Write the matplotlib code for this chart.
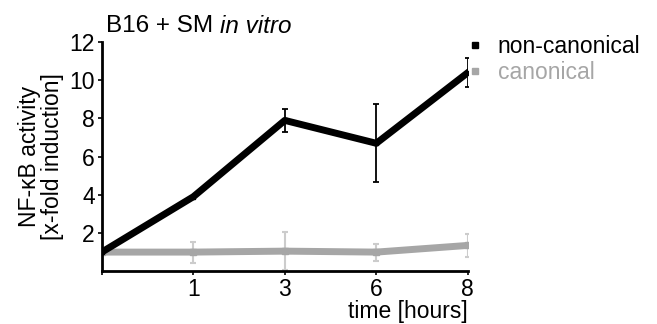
import numpy as np
import matplotlib.pyplot as plt
from matplotlib.lines import Line2D

plt.rcParams['font.family'] = ['Liberation Sans', 'DejaVu Sans']

# time points (hours), drawn at evenly spaced positions
time_labels = ['', '1', '3', '6', '8']
noncanonical = [1.0, 3.9, 7.9, 6.7, 10.4]
noncanonical_err = [0, 0, 0.6, 2.05, 0.75]
canonical = [1.0, 1.0, 1.05, 1.0, 1.35]
canonical_err = [0, 0.55, 1.0, 0.45, 0.6]

x = np.arange(len(time_labels))

fig = plt.figure(figsize=(6.57, 3.24), dpi=100)
ax = fig.add_axes([0.155, 0.163, 0.557, 0.707])

ax.errorbar(x, canonical, yerr=canonical_err, color='#a6a6a6', lw=5,
            ecolor='#cccccc', elinewidth=1.5, capsize=2.5, capthick=1.5,
            marker='s', ms=5, label='canonical', zorder=2)
ax.errorbar(x, noncanonical, yerr=noncanonical_err, color='black', lw=5,
            ecolor='black', elinewidth=1.3, capsize=2.5, capthick=1.3,
            marker='s', ms=3, label='non-canonical', zorder=3)

ax.set_xlim(0, 4)
ax.set_ylim(0, 12)
ax.set_xticks(x)
ax.set_xticklabels(time_labels)
ax.set_yticks([2, 4, 6, 8, 10, 12])
ax.tick_params(labelsize=16.5, length=3, width=1.2, pad=2)
for s in ['top', 'right']:
    ax.spines[s].set_visible(False)
for s in ['left', 'bottom']:
    ax.spines[s].set_linewidth(2)

ax.set_xlabel('time [hours]', fontsize=16.5, loc='right', labelpad=-1)
ax.set_ylabel('NF-κB activity\n[x-fold induction]', fontsize=16.5, labelpad=4,
              linespacing=1.0)
t1 = ax.text(0.012, 1.07, 'B16 + SM ', transform=ax.transAxes,
             fontsize=17.5, ha='left', va='center')
ax.annotate('in vitro', xy=(1, 0.5), xycoords=t1, fontsize=17.5,
            fontstyle='italic', ha='left', va='center')

handles = [Line2D([], [], ls='', marker='s', color='black', ms=5),
           Line2D([], [], ls='', marker='s', color='#a6a6a6', ms=5)]
leg = ax.legend(handles, ['non-canonical', 'canonical'], loc='upper left',
                bbox_to_anchor=(0.975, 1.07), frameon=False, fontsize=16.5,
                handlelength=0.6, handletextpad=0.7, labelspacing=0.1,
                borderaxespad=0)
leg.get_texts()[1].set_color('#a6a6a6')

fig.savefig('out.png', dpi=100)
